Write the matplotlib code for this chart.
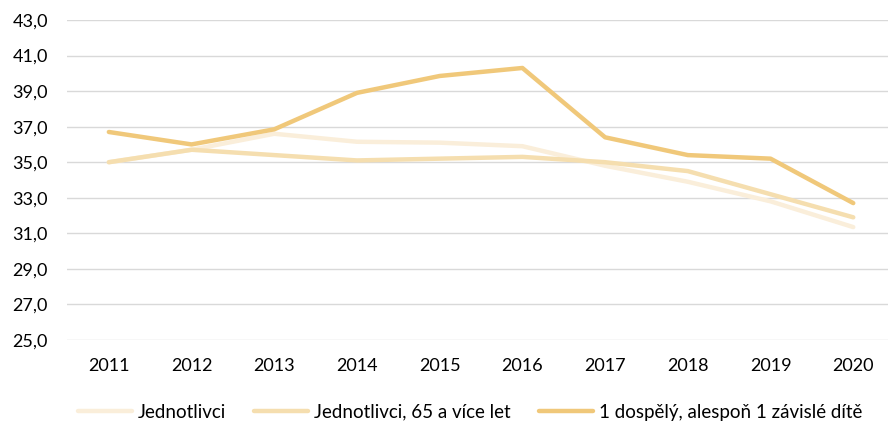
import matplotlib
matplotlib.use("Agg")
import matplotlib.pyplot as plt
from matplotlib.ticker import FuncFormatter

years = ["2011", "2012", "2013", "2014", "2015", "2016", "2017", "2018", "2019", "2020"]
jednotlivci = [35.0, 35.7, 36.6, 36.15, 36.1, 35.9, 34.8, 33.9, 32.8, 31.35]
jednotlivci_65 = [35.0, 35.7, 35.4, 35.1, 35.2, 35.3, 35.0, 34.5, 33.2, 31.9]
dospely_dite = [36.7, 36.0, 36.85, 38.9, 39.85, 40.3, 36.4, 35.4, 35.2, 32.7]

labels = ["Jednotlivci", "Jednotlivci, 65 a více let", "1 dospělý, alespoň 1 závislé dítě"]
colors = ["#FAEEDA", "#F5DEAF", "#F0C87A"]

plt.rcParams["font.family"] = ["Lato", "DejaVu Sans"]

fig = plt.figure(figsize=(8.88, 4.25), dpi=100)
ax = fig.add_axes([0.076, 0.2, 0.924, 0.753])

x = list(range(len(years)))
for series, lab, col in zip([jednotlivci, jednotlivci_65, dospely_dite], labels, colors):
    ax.plot(x, series, color=col, lw=3.2, solid_capstyle="round", solid_joinstyle="round", label=lab)

ax.set_ylim(25, 43)
ax.set_yticks([25 + 2 * i for i in range(10)])
ax.yaxis.set_major_formatter(FuncFormatter(lambda v, p: f"{v:.1f}".replace(".", ",")))
ax.set_xlim(-0.5, 9.42)
ax.set_xticks(x)
ax.set_xticklabels(years)

ax.grid(axis="y", color="#D9D9D9", lw=1)
ax.set_axisbelow(True)
for s in ax.spines.values():
    s.set_visible(False)
ax.tick_params(length=0, labelsize=13, colors="#000000")
ax.tick_params(axis="y", pad=14)
ax.tick_params(axis="x", pad=13)

fig.legend(loc="center", bbox_to_anchor=(0.529, 0.03), ncol=3, frameon=False,
           fontsize=13.5, handlelength=2.9, columnspacing=1.5, handletextpad=0.3)

fig.savefig("out.png", dpi=100)
